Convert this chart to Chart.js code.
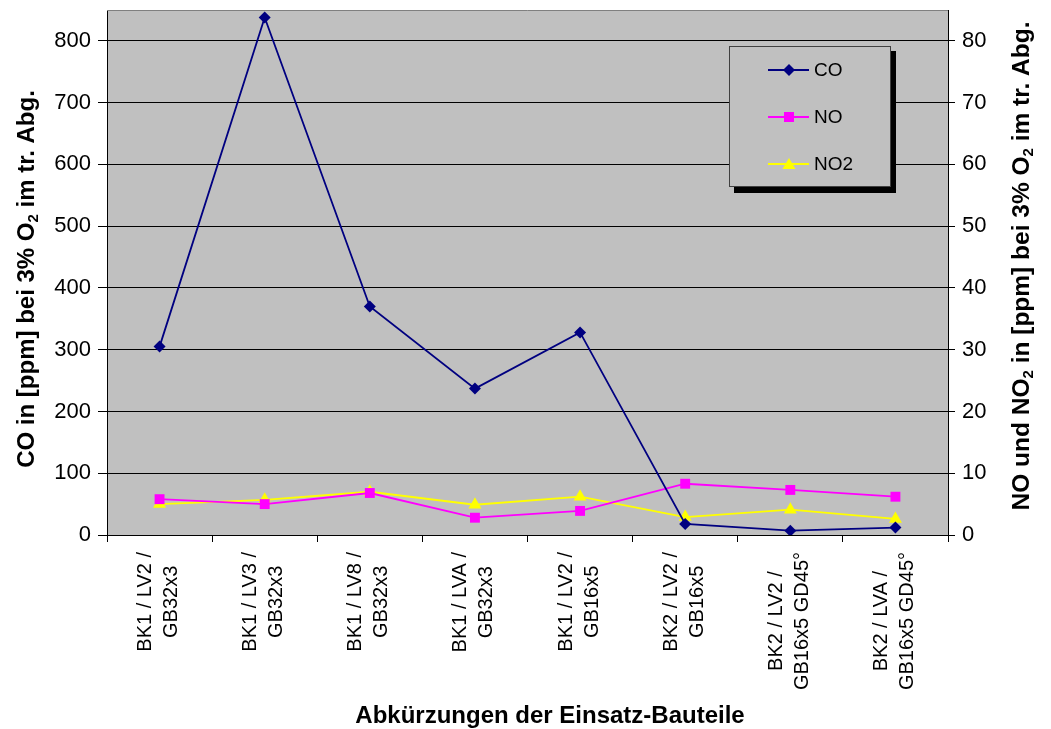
<!DOCTYPE html>
<html lang="de">
<head>
<meta charset="UTF-8">
<title>CO, NO und NO2 je Einsatz-Bauteil</title>
<script src="https://cdn.jsdelivr.net/npm/chart.js@4.4.0/dist/chart.umd.min.js"></script>
<style>
    html, body { margin: 0; padding: 0; background: #fff; }
</style>
</head>
<body>
<canvas id="chart" width="1051" height="729"></canvas>
<script>
// Werte
const categories = [
    ['BK1 / LV2 /', 'GB32x3'],
    ['BK1 / LV3 /', 'GB32x3'],
    ['BK1 / LV8 /', 'GB32x3'],
    ['BK1 / LVA /', 'GB32x3'],
    ['BK1 / LV2 /', 'GB16x5'],
    ['BK2 / LV2 /', 'GB16x5'],
    ['BK2 / LV2 /', 'GB16x5 GD45°'],
    ['BK2 / LVA /', 'GB16x5 GD45°']
];
const coValues = [305, 838, 370, 237, 328, 18, 7, 12];
const noValues = [5.8, 5.0, 6.8, 2.8, 3.9, 8.3, 7.3, 6.2];
const no2Values = [5.0, 5.7, 7.0, 4.9, 6.2, 2.9, 4.1, 2.6];
const leftMax = 850, leftStep = 100;
const rightMax = 85, rightStep = 10;

const FONT = '"Liberation Sans", Arial, sans-serif';

function richText(ctx, parts, cx, cy, angle, size) {
    const main = 'bold ' + size + 'px ' + FONT;
    const sub = 'bold ' + Math.round(size * 0.62) + 'px ' + FONT;
    ctx.save();
    ctx.translate(cx, cy);
    ctx.rotate(angle);
    ctx.textBaseline = 'middle';
    ctx.textAlign = 'left';
    ctx.fillStyle = '#000';
    let total = 0;
    const widths = parts.map(p => {
        ctx.font = p.sub ? sub : main;
        const w = ctx.measureText(p.t).width;
        total += w;
        return w;
    });
    let x = -total / 2;
    parts.forEach((p, i) => {
        ctx.font = p.sub ? sub : main;
        ctx.fillText(p.t, x, p.sub ? size * 0.3 : 0);
        x += widths[i];
    });
    ctx.restore();
}

function marker(ctx, style, x, y, color) {
    ctx.fillStyle = color;
    ctx.beginPath();
    if (style === 'rectRot') {
        ctx.moveTo(x, y - 6); ctx.lineTo(x + 6, y); ctx.lineTo(x, y + 6); ctx.lineTo(x - 6, y);
    } else if (style === 'rect') {
        ctx.rect(x - 5, y - 5, 10, 10);
    } else {
        ctx.moveTo(x, y - 6); ctx.lineTo(x + 6.5, y + 5); ctx.lineTo(x - 6.5, y + 5);
    }
    ctx.closePath();
    ctx.fill();
}

const decor = {
    id: 'decor',
    beforeDraw(chart) {
        const { ctx, chartArea: a } = chart;
        ctx.save();
        ctx.fillStyle = '#c0c0c0';
        ctx.fillRect(a.left, a.top, a.right - a.left, a.bottom - a.top);
        ctx.restore();
    },
    afterDraw(chart) {
        const { ctx, chartArea: a } = chart;
        ctx.save();
        ctx.strokeStyle = '#808080';
        ctx.lineWidth = 1;
        ctx.beginPath();
        ctx.moveTo(a.left, a.top + 0.5);
        ctx.lineTo(a.right, a.top + 0.5);
        ctx.stroke();

        // Kategorien, zentriert gesetzt wie im Original
        const xs = chart.scales.x;
        ctx.font = '20px ' + FONT;
        ctx.fillStyle = '#000';
        ctx.textAlign = 'center';
        ctx.textBaseline = 'middle';
        const lh = 26;
        categories.forEach((lines, i) => {
            const px = xs.getPixelForValue(i);
            const w = Math.max(...lines.map(l => ctx.measureText(l).width));
            ctx.save();
            ctx.translate(px - 1, a.bottom + 17);
            ctx.rotate(-Math.PI / 2);
            lines.forEach((l, j) => {
                ctx.fillText(l, -w / 2, (j - (lines.length - 1) / 2) * lh);
            });
            ctx.restore();
        });

        // Achsentitel
        richText(ctx, [{ t: 'CO in [ppm] bei 3% O' }, { t: '2', sub: true }, { t: ' im tr. Abg.' }],
            27, 279, -Math.PI / 2, 24);
        richText(ctx, [{ t: 'NO und NO' }, { t: '2', sub: true }, { t: ' in [ppm] bei 3% O' }, { t: '2', sub: true }, { t: ' im tr. Abg.' }],
            1022, 266, -Math.PI / 2, 24.5);
        richText(ctx, [{ t: 'Abkürzungen der Einsatz-Bauteile' }], 550, 716, 0, 24);

        // Legende
        ctx.fillStyle = '#000';
        ctx.fillRect(734, 51, 162, 142);
        ctx.fillStyle = '#c0c0c0';
        ctx.fillRect(729, 46, 162, 141);
        ctx.strokeStyle = '#404040';
        ctx.strokeRect(729.5, 46.5, 161, 140);
        const rows = [70, 117, 164];
        chart.data.datasets.forEach((ds, i) => {
            const y = rows[i];
            ctx.strokeStyle = ds.borderColor;
            ctx.lineWidth = 2;
            ctx.beginPath();
            ctx.moveTo(768, y);
            ctx.lineTo(809, y);
            ctx.stroke();
            marker(ctx, ds.pointStyle, 789, y, ds.backgroundColor);
            ctx.fillStyle = '#000';
            ctx.font = '19px ' + FONT;
            ctx.textBaseline = 'middle';
            ctx.textAlign = 'left';
            ctx.fillText(ds.label, 814, y + 1);
        });
        ctx.restore();
    }
};

const keepSteps = step => scale => {
    scale.ticks = scale.ticks.filter(t => Math.abs(t.value % step) < 1e-6);
};

new Chart(document.getElementById('chart'), {
    type: 'line',
    data: {
        labels: categories,
        datasets: [
            {
                label: 'CO', data: coValues, yAxisID: 'y',
                borderColor: '#000080', backgroundColor: '#000080',
                borderWidth: 1.8, pointStyle: 'rectRot', pointRadius: 6, pointBorderWidth: 0
            },
            {
                label: 'NO', data: noValues, yAxisID: 'y2',
                borderColor: '#ff00ff', backgroundColor: '#ff00ff',
                borderWidth: 1.8, pointStyle: 'rect', pointRadius: 7, pointBorderWidth: 0
            },
            {
                label: 'NO2', data: no2Values, yAxisID: 'y2',
                borderColor: '#ffff00', backgroundColor: '#ffff00',
                borderWidth: 1.8, pointStyle: 'triangle', pointRadius: 7.5, pointBorderWidth: 0
            }
        ]
    },
    options: {
        responsive: false,
        animation: false,
        layout: { padding: { top: 10, left: 0, right: 0, bottom: 0 } },
        plugins: { legend: { display: false }, tooltip: { enabled: false } },
        scales: {
            x: {
                offset: true,
                grid: { display: true, offset: true, drawOnChartArea: false, drawTicks: true, tickLength: 7, color: '#000' },
                border: { display: true, color: '#000' },
                ticks: { display: false, autoSkip: false },
                afterFit: s => { s.height = 194; s.paddingLeft = 0; s.paddingRight = 0; }
            },
            y: {
                position: 'left', min: 0, max: leftMax,
                afterBuildTicks: keepSteps(leftStep),
                grid: { color: '#000', tickLength: 9 },
                border: { display: true, color: '#000' },
                ticks: { stepSize: leftStep, padding: 7, color: '#000', font: { family: FONT, size: 22 } },
                afterFit: s => { s.width = 107; s.paddingTop = 0; s.paddingBottom = 0; }
            },
            y2: {
                position: 'right', min: 0, max: rightMax,
                afterBuildTicks: keepSteps(rightStep),
                grid: { drawOnChartArea: false, color: '#000', tickLength: 7 },
                border: { display: true, color: '#000' },
                ticks: { stepSize: rightStep, padding: 7, color: '#000', font: { family: FONT, size: 22 } },
                afterFit: s => { s.width = 103; s.paddingTop = 0; s.paddingBottom = 0; }
            }
        }
    },
    plugins: [decor]
});
</script>
</body>
</html>
